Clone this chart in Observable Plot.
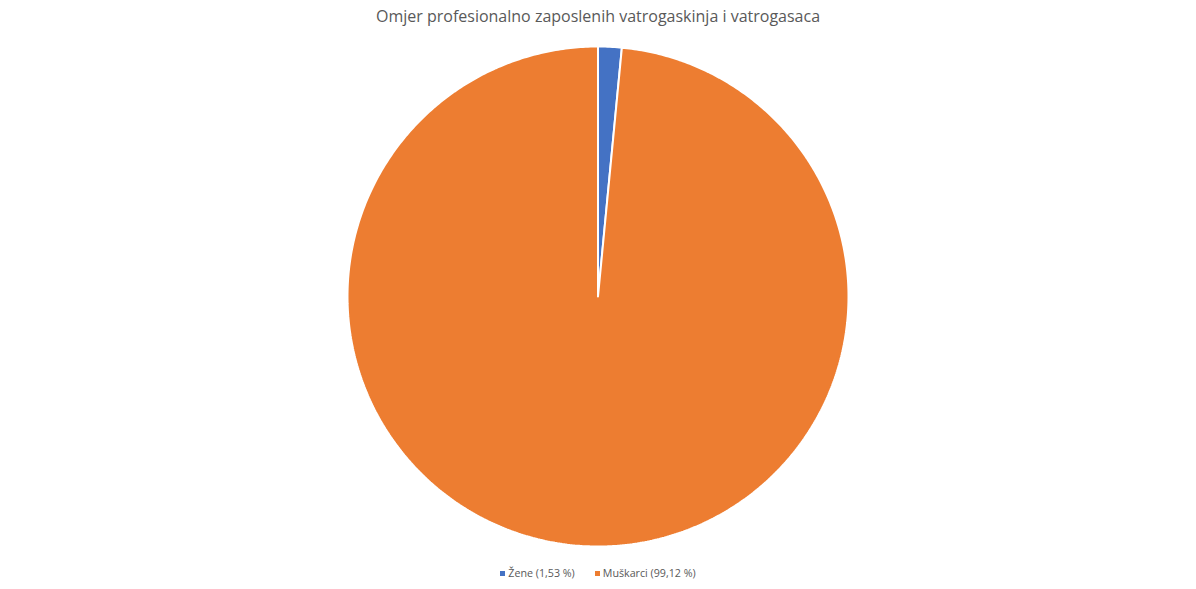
<!DOCTYPE html>
<html><head><meta charset="utf-8">
<script src="https://cdn.jsdelivr.net/npm/d3@7"></script>
<script src="https://cdn.jsdelivr.net/npm/@observablehq/plot@0.6"></script>
<style>
body{margin:0;background:#fff;width:1196px;height:589px;overflow:hidden;font-family:"Open Sans",sans-serif;}
#title{height:34px;text-align:center;font-size:16px;color:#595959;line-height:33px;padding-top:0;}
#legend{display:flex;justify-content:center;gap:20px;font-size:10.7px;color:#595959;margin-top:12px;}
#legend span.sw{display:inline-block;width:5px;height:5px;margin-right:3px;vertical-align:middle;position:relative;top:-1px;}
</style></head><body>
<div id="title">Omjer profesionalno zaposlenih vatrogaskinja i vatrogasaca</div>
<div id="chart"></div>
<div id="legend"></div>
<script>
const categories = ["Žene", "Muškarci"];
const values = [1.53, 99.12];
const labels = ["Žene (1,53 %)", "Muškarci (99,12 %)"];
const colors = ["#4472C4", "#ED7D31"];

const arcs = d3.pie().sort(null).value(d => d.value)(categories.map((c, i) => ({name: c, value: values[i]})));
const pts = [];
for (const a of arcs) {
  const n = Math.max(4, Math.ceil((a.endAngle - a.startAngle) / 0.01));
  pts.push({name: a.data.name, x: 0, y: 0});
  for (let k = 0; k <= n; k++) {
    const t = a.startAngle + (a.endAngle - a.startAngle) * k / n;
    pts.push({name: a.data.name, x: Math.sin(t), y: Math.cos(t)});
  }
  pts.push({name: a.data.name, x: 0, y: 0});
}

const plot = Plot.plot({
  width: 1196, height: 520,
  marginLeft: 347, marginRight: 348, marginTop: 12, marginBottom: 8,
  x: {domain: [-1, 1], axis: null},
  y: {domain: [-1, 1], axis: null},
  color: {domain: categories, range: colors},
  marks: categories.map((c, i) => Plot.line(pts.filter(p => p.name === c), {x: "x", y: "y", fill: colors[i], stroke: "white", strokeWidth: 2, strokeLinejoin: "miter", curve: "linear"}))
});
document.getElementById("chart").appendChild(plot);

const lg = document.getElementById("legend");
labels.forEach((l, i) => {
  const d = document.createElement("div");
  d.innerHTML = `<span class="sw" style="background:${colors[i]}"></span>${l}`;
  lg.appendChild(d);
});
</script>
</body></html>
